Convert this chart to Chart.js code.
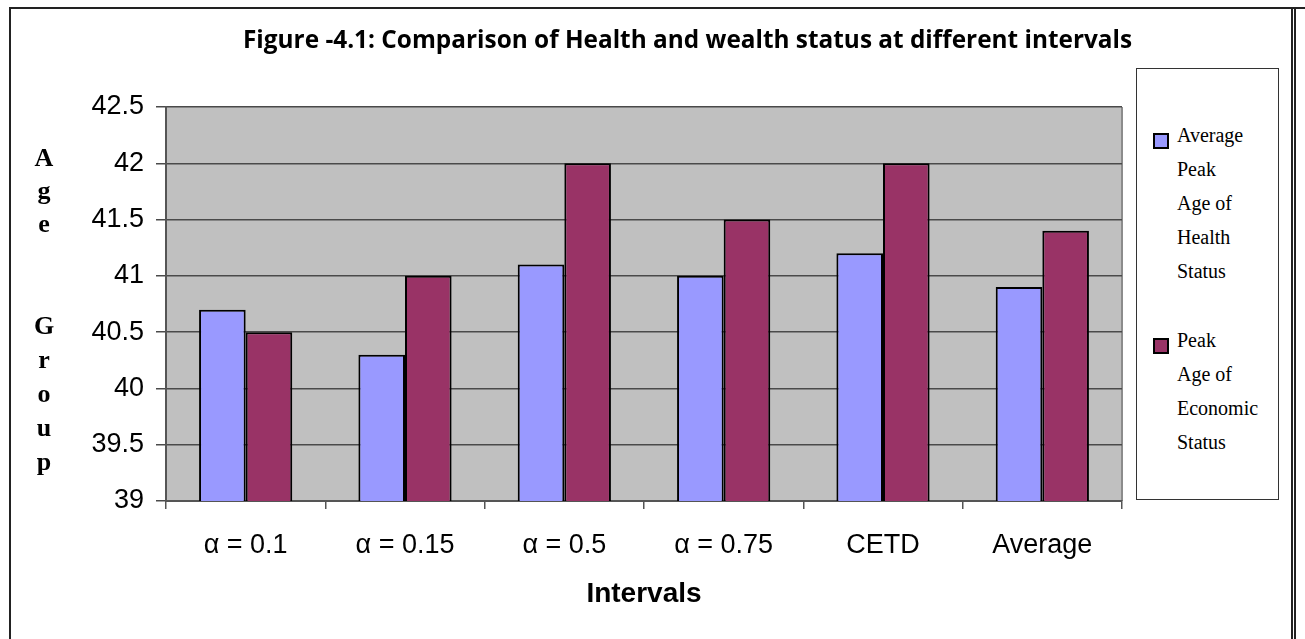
<!DOCTYPE html>
<html>
<head>
<meta charset="utf-8">
<title>Figure 4.1</title>
<script src="https://cdn.jsdelivr.net/npm/chart.js@4.4.1/dist/chart.umd.min.js"></script>
<style>
  body { margin: 0; background: #fff; }
  #wrap { position: relative; width: 1305px; height: 639px; overflow: hidden; background: #fff; }
  #frame { position: absolute; left: 9px; top: 7px; width: 1280px; height: 700px;
           border: 2px solid #222; border-bottom: none; }
  #topLine { position: absolute; left: 9px; top: 7px; width: 1296px; height: 2px; background: #222; }
  #rightLine { position: absolute; left: 1294px; top: 7px; width: 2px; height: 700px; background: #222; }
  #chart { position: absolute; left: 0; top: 0; }
  #title { position: absolute; left: 243px; top: 21px; white-space: nowrap; line-height: 30px;
           font: bold 25px "Open Sans", sans-serif; color: #000; transform-origin: 0 0; }
  .ytitle { position: absolute; left: 30px; width: 28px; text-align: center;
            font: bold 26px "Liberation Serif", serif; color: #000; }
  #yAge { top: 141px; line-height: 33px; }
  #yGroup { top: 309px; line-height: 34px; }
  #legend { position: absolute; left: 1136px; top: 68px; width: 143px; height: 432px;
            border: 1px solid #333; background: #fff; box-sizing: border-box; }
  #legend .item { position: relative; padding-left: 40px; margin-bottom: 35px; }
  #legend .box { position: absolute; left: 16px; top: 15px; width: 12px; height: 12px; border: 2px solid #000; }
  #legend .txt { width: 72px; font: 20px "Liberation Serif", serif; line-height: 34px; color: #000; }
</style>
</head>
<body>
<div id="wrap">
  <div id="frame"></div>
  <div id="topLine"></div>
  <div id="rightLine"></div>
  <canvas id="chart" width="1305" height="639"></canvas>
  <div id="title"></div>
  <div id="yAge" class="ytitle"></div>
  <div id="yGroup" class="ytitle"></div>
  <div id="legend"></div>
</div>
<script>
// Chart data
const chartTitle = 'Figure -4.1: Comparison of Health and wealth status at different intervals';
const categories = ['\u03b1 = 0.1', '\u03b1 = 0.15', '\u03b1 = 0.5', '\u03b1 = 0.75', 'CETD', 'Average'];
const healthAges = [40.7, 40.3, 41.1, 41.0, 41.2, 40.9];
const economicAges = [40.5, 41.0, 42.0, 41.5, 42.0, 41.4];
const seriesNames = ['Average Peak Age of Health Status', 'Peak Age of Economic Status'];
const seriesColors = ['#9999ff', '#993366'];
const yTitleWords = ['Age', 'Group'];
const xTitle = 'Intervals';

document.addEventListener('DOMContentLoaded', function() {
    // Title, scaled to the width it has in the figure
    const title = document.getElementById('title');
    title.textContent = chartTitle;
    title.style.transform = 'scaleX(' + (889 / title.offsetWidth) + ')';

    // Stacked y axis title letters
    document.getElementById('yAge').innerHTML = yTitleWords[0].split('').join('<br>');
    document.getElementById('yGroup').innerHTML = yTitleWords[1].split('').join('<br>');

    // Grey plot area
    const plotBg = {
        id: 'plotBg',
        beforeDraw(chart) {
            const { ctx, chartArea: a } = chart;
            ctx.save();
            ctx.fillStyle = '#c0c0c0';
            ctx.fillRect(a.left, a.top, a.right - a.left, a.bottom - a.top);
            ctx.strokeStyle = '#8c8c8c';
            ctx.lineWidth = 2;
            ctx.beginPath();
            ctx.moveTo(a.right, a.top);
            ctx.lineTo(a.right, a.bottom);
            ctx.stroke();
            ctx.restore();
        }
    };

    const ctx = document.getElementById('chart').getContext('2d');
    const chart = new Chart(ctx, {
        type: 'bar',
        data: {
            labels: categories,
            datasets: [{
                label: seriesNames[0],
                data: healthAges,
                backgroundColor: seriesColors[0],
                borderColor: '#000',
                borderWidth: 2,
                borderSkipped: false
            }, {
                label: seriesNames[1],
                data: economicAges,
                backgroundColor: seriesColors[1],
                borderColor: '#000',
                borderWidth: 2,
                borderSkipped: false
            }]
        },
        options: {
            responsive: false,
            animation: false,
            devicePixelRatio: 1,
            categoryPercentage: 0.585,
            barPercentage: 1.0,
            layout: { padding: { top: 107, right: 183, left: 0, bottom: 0 } },
            plugins: {
                legend: { display: false },
                tooltip: { enabled: false }
            },
            scales: {
                x: {
                    afterFit: function(scale) { scale.height = 138; },
                    grid: { drawOnChartArea: false, offset: true, tickLength: 8, color: '#555', lineWidth: 1.5 },
                    border: { color: '#555', width: 2 },
                    ticks: { color: '#000', padding: 20, font: { family: 'Liberation Sans', size: 27 } },
                    title: {
                        display: true,
                        text: xTitle,
                        color: '#000',
                        padding: { top: 0, bottom: 28 },
                        font: { family: 'Liberation Sans', size: 28, weight: 'bold' }
                    }
                },
                y: {
                    min: 39,
                    max: 42.5,
                    afterFit: function(scale) { scale.width = 166; },
                    grid: { color: '#4a4a4a', lineWidth: 1.5, tickLength: 10 },
                    border: { color: '#555', width: 2 },
                    ticks: {
                        stepSize: 0.5,
                        color: '#000',
                        padding: 12,
                        font: { family: 'Liberation Sans', size: 27 },
                        callback: function(value) { return String(value); }
                    }
                }
            }
        },
        plugins: [plotBg]
    });

    // Legend box built from the datasets
    const legend = document.getElementById('legend');
    legend.innerHTML = '<div style="height:49px"></div>';
    chart.data.datasets.forEach(function(ds) {
        const item = document.createElement('div');
        item.className = 'item';
        item.innerHTML = '<div class="box" style="background:' + ds.backgroundColor + '"></div>' +
            '<div class="txt">' + ds.label + '</div>';
        legend.appendChild(item);
    });
});
</script>
</body>
</html>
